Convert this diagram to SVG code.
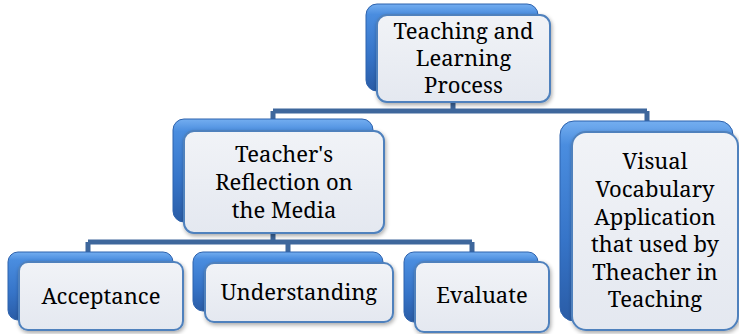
<svg xmlns="http://www.w3.org/2000/svg" width="739" height="334" viewBox="0 0 739 334">
<defs>
<linearGradient id="gBack" x1="0" y1="0" x2="0" y2="1">
<stop offset="0" stop-color="#74aef0"/>
<stop offset="0.12" stop-color="#4a8ddf"/>
<stop offset="0.6" stop-color="#3674c8"/>
<stop offset="1" stop-color="#2a5ca6"/>
</linearGradient>
<linearGradient id="gFront" x1="0" y1="0" x2="0" y2="1">
<stop offset="0" stop-color="#f1f3f7"/>
<stop offset="1" stop-color="#e4e8f0"/>
</linearGradient>
<filter id="sh" x="-10%" y="-10%" width="125%" height="130%">
<feGaussianBlur in="SourceAlpha" stdDeviation="2"/>
<feOffset dx="1" dy="2" result="b"/>
<feComponentTransfer><feFuncA type="linear" slope="0.35"/></feComponentTransfer>
<feMerge><feMergeNode/><feMergeNode in="SourceGraphic"/></feMerge>
</filter>
</defs>
<style>
.back{fill:url(#gBack);stroke:#2d62ad;stroke-width:1}
.front{fill:url(#gFront);stroke:#4f81bd;stroke-width:2;filter:url(#sh)}
.conn{fill:none;stroke:#3e679c;stroke-width:5;stroke-linejoin:miter}
.t{font-size:22px;fill:#000;text-anchor:middle}
</style>
<g id="connectors">
<path class="conn" d="M453 100 V111 M273 111 H647 M273 111 V122 M647 111 V124"/>
<path class="conn" d="M273 230 V242 M88 242 H472 M88 242 V254 M288 242 V254 M472 242 V254"/>
</g>
<g font-family="'Noto Serif'">
<g id="n-top">
<rect class="back" x="366" y="4" width="172" height="87" rx="11"/>
<rect class="front" x="377" y="15" width="173" height="87" rx="10"/>
<text class="t" x="463.5" y="39">Teaching and</text>
<text class="t" x="463.5" y="66">Learning</text>
<text class="t" x="463.5" y="93">Process</text>
</g>
<g id="n-teacher">
<rect class="back" x="173" y="119" width="200" height="103" rx="11"/>
<rect class="front" x="184" y="131" width="200" height="102" rx="10"/>
<text class="t" x="284" y="162">Teacher's</text>
<text class="t" x="284" y="190">Reflection on</text>
<text class="t" x="284" y="218">the Media</text>
</g>
<g id="n-visual">
<rect class="back" x="560" y="121" width="173" height="200" rx="14"/>
<rect class="front" x="572" y="132" width="166" height="198" rx="14"/>
<text class="t" x="655" y="169">Visual</text>
<text class="t" x="655" y="197">Vocabulary</text>
<text class="t" x="655" y="225">Application</text>
<text class="t" x="655" y="252">that used by</text>
<text class="t" x="655" y="280">Theacher in</text>
<text class="t" x="655" y="307">Teaching</text>
</g>
<g id="n-acceptance">
<rect class="back" x="8" y="252" width="165" height="68" rx="10"/>
<rect class="front" x="19" y="262" width="164" height="68" rx="9"/>
<text class="t" x="101" y="304">Acceptance</text>
</g>
<g id="n-understanding">
<rect class="back" x="193" y="252" width="190" height="59" rx="10"/>
<rect class="front" x="205" y="263" width="188" height="59" rx="9"/>
<text class="t" x="299" y="300">Understanding</text>
</g>
<g id="n-evaluate">
<rect class="back" x="404" y="252" width="134" height="70" rx="10"/>
<rect class="front" x="415" y="262" width="134" height="70" rx="9"/>
<text class="t" x="482" y="303">Evaluate</text>
</g>
</g>
</svg>
